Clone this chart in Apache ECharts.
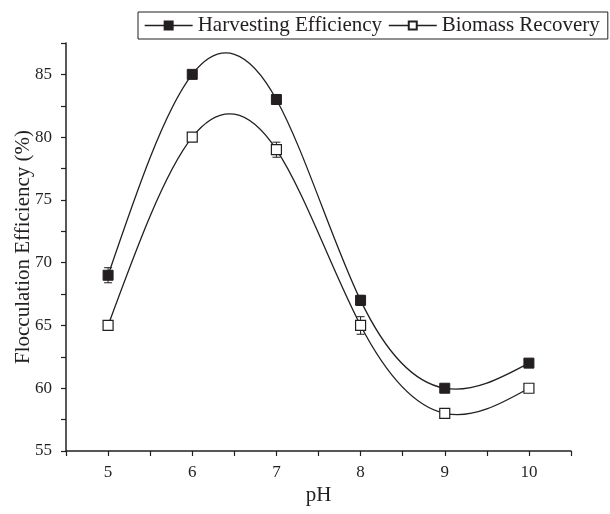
<!DOCTYPE html>
<html lang="en">
<head>
    <meta charset="UTF-8">
    <title>Flocculation Efficiency vs pH</title>
    <script src="https://cdn.jsdelivr.net/npm/echarts@6/dist/echarts.min.js"></script>
    <style>
        body {
            margin: 0;
            padding: 0;
            background: #fff;
        }
        #box {
            width: 610px;
            height: 514px;
        }
    </style>
</head>
<body>
<div id="box"></div>
<script>
    // data
    var phValues = [5, 6, 7, 8, 9, 10];
    var harvesting = [69, 85, 83, 67, 60, 62];
    var harvestingErr = [0.6, 0, 0.4, 0.4, 0, 0];
    var biomass = [65, 80, 79, 65, 58, 60];
    var biomassErr = [0, 0, 0.6, 0.7, 0, 0.3];
    var seriesNames = ['Harvesting Efficiency', 'Biomass Recovery'];

    var serif = '"Liberation Serif", "Times New Roman", serif';
    var ink = '#231f20';

    function pairs(ys) {
        return phValues.map(function (x, i) { return [x, ys[i]]; });
    }

    function errRows(ys, es) {
        return phValues.map(function (x, i) { return [x, ys[i] - es[i], ys[i] + es[i]]; });
    }

    // second derivatives of a natural cubic spline through (xs, ys)
    function splineM(xs, ys) {
        var n = xs.length, h = [], a = [], b = [], c = [], d = [], M = new Array(n).fill(0);
        for (var i = 0; i < n - 1; i++) h[i] = xs[i + 1] - xs[i];
        for (var k = 1; k < n - 1; k++) {
            a[k] = h[k - 1];
            b[k] = 2 * (h[k - 1] + h[k]);
            c[k] = h[k];
            d[k] = 6 * ((ys[k + 1] - ys[k]) / h[k] - (ys[k] - ys[k - 1]) / h[k - 1]);
        }
        // thomas algorithm
        for (var k2 = 2; k2 < n - 1; k2++) {
            var w = a[k2] / b[k2 - 1];
            b[k2] -= w * c[k2 - 1];
            d[k2] -= w * d[k2 - 1];
        }
        for (var k3 = n - 2; k3 >= 1; k3--) {
            M[k3] = (d[k3] - (k3 < n - 2 ? c[k3] * M[k3 + 1] : 0)) / b[k3];
        }
        return M;
    }

    // each segment of the spline drawn as a bezier in axis coordinates
    function splineRenderer(ys) {
        var M = splineM(phValues, ys);
        return function (params, api) {
            var i = params.dataIndex;
            if (i >= phValues.length - 1) return null;
            var x0 = phValues[i], x1 = phValues[i + 1], h = x1 - x0;
            var y0 = ys[i], y1 = ys[i + 1];
            var s = (y1 - y0) / h;
            var d0 = s - h * (2 * M[i] + M[i + 1]) / 6;
            var d1 = s + h * (M[i] + 2 * M[i + 1]) / 6;
            var p0 = api.coord([x0, y0]);
            var p3 = api.coord([x1, y1]);
            var p1 = api.coord([x0 + h / 3, y0 + d0 * h / 3]);
            var p2 = api.coord([x1 - h / 3, y1 - d1 * h / 3]);
            return {
                type: 'bezierCurve',
                shape: {x1: p0[0], y1: p0[1], x2: p3[0], y2: p3[1],
                    cpx1: p1[0], cpy1: p1[1], cpx2: p2[0], cpy2: p2[1]},
                style: {stroke: ink, lineWidth: 1.3, fill: null}
            };
        };
    }

    // error bar drawn with the axis scales
    function errorBar(params, api) {
        var lo = api.coord([api.value(0), api.value(1)]);
        var hi = api.coord([api.value(0), api.value(2)]);
        if (Math.abs(lo[1] - hi[1]) < 0.5) return null;
        var w = 4;
        var st = {stroke: ink, lineWidth: 1};
        return {
            type: 'group',
            children: [
                {type: 'line', shape: {x1: lo[0], y1: lo[1], x2: hi[0], y2: hi[1]}, style: st},
                {type: 'line', shape: {x1: lo[0] - w, y1: lo[1], x2: lo[0] + w, y2: lo[1]}, style: st},
                {type: 'line', shape: {x1: hi[0] - w, y1: hi[1], x2: hi[0] + w, y2: hi[1]}, style: st}
            ]
        };
    }

    var myChart = echarts.init(document.getElementById('box'));

    var option = {
        animation: false,
        backgroundColor: '#fff',
        textStyle: {fontFamily: serif, color: ink},
        legend: {
            data: seriesNames,
            left: 138,
            top: 12,
            padding: [3, 8, 3, 6],
            itemGap: 6,
            itemWidth: 48,
            itemHeight: 10,
            borderColor: ink,
            borderWidth: 1,
            borderRadius: 0,
            lineStyle: {color: ink, width: 1.3, opacity: 1},
            textStyle: {fontFamily: serif, fontSize: 21, color: ink}
        },
        grid: {
            left: 66,
            right: 39,
            top: 43,
            bottom: 63,
            containLabel: false,
            outerBoundsMode: 'none'
        },
        xAxis: {
            type: 'value',
            min: 4.5,
            max: 10.5,
            interval: 0.5,
            name: 'pH',
            nameLocation: 'middle',
            nameGap: 34,
            nameMoveOverlap: false,
            nameTextStyle: {fontFamily: serif, fontSize: 21, color: ink},
            axisLine: {show: true, lineStyle: {color: ink, width: 1.5}},
            axisTick: {show: true, inside: false, length: 5, lineStyle: {color: ink, width: 1.2}},
            axisLabel: {
                fontFamily: serif, fontSize: 17, color: ink, margin: 13,
                formatter: function (v) { return v % 1 === 0 ? String(v) : ''; }
            },
            splitLine: {show: false}
        },
        yAxis: {
            type: 'value',
            min: 55,
            max: 87.5,
            interval: 2.5,
            name: 'Flocculation Efficiency (%)',
            nameLocation: 'middle',
            nameGap: 32,
            nameMoveOverlap: false,
            nameTextStyle: {fontFamily: serif, fontSize: 21, color: ink},
            axisLine: {show: true, lineStyle: {color: ink, width: 1.5}},
            axisTick: {show: true, inside: false, length: 5, lineStyle: {color: ink, width: 1.2}},
            axisLabel: {
                fontFamily: serif, fontSize: 17, color: ink, margin: 14,
                formatter: function (v) { return v % 5 === 0 ? String(v) : ''; }
            },
            splitLine: {show: false}
        },
        series: [
            {
                name: seriesNames[0],
                type: 'line',
                data: pairs(harvesting),
                symbol: 'rect',
                symbolSize: 10,
                z: 4,
                lineStyle: {color: ink, width: 1.3, opacity: 0},
                itemStyle: {color: ink, borderColor: ink, borderWidth: 1}
            },
            {
                name: seriesNames[1],
                type: 'line',
                data: pairs(biomass),
                symbol: 'rect',
                symbolSize: 10,
                z: 4,
                lineStyle: {color: ink, width: 1.3, opacity: 0},
                itemStyle: {color: '#fff', borderColor: ink, borderWidth: 1.2}
            },
            {
                type: 'custom',
                renderItem: splineRenderer(harvesting),
                data: pairs(harvesting),
                z: 2,
                silent: true
            },
            {
                type: 'custom',
                renderItem: splineRenderer(biomass),
                data: pairs(biomass),
                z: 2,
                silent: true
            },
            {
                type: 'custom',
                renderItem: errorBar,
                data: errRows(harvesting, harvestingErr),
                z: 3,
                silent: true
            },
            {
                type: 'custom',
                renderItem: errorBar,
                data: errRows(biomass, biomassErr),
                z: 3,
                silent: true
            }
        ]
    };

    myChart.setOption(option);
</script>
</body>
</html>
